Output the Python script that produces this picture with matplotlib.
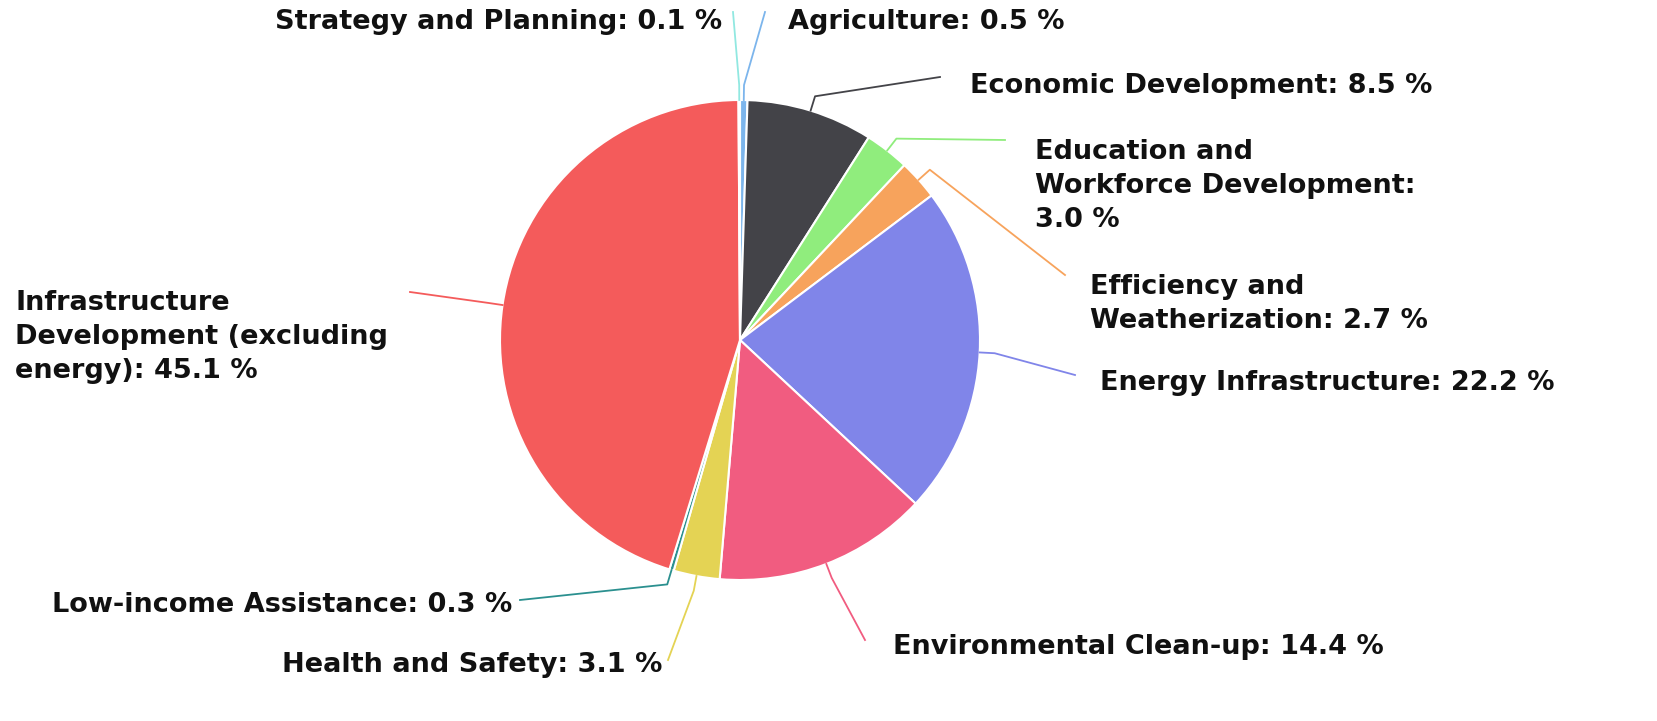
import numpy as np
import matplotlib.pyplot as plt

categories = ['Agriculture', 'Economic Development', 'Education and Workforce Development',
              'Efficiency and Weatherization', 'Energy Infrastructure',
              'Environmental Clean-up', 'Health and Safety', 'Low-income Assistance',
              'Infrastructure Development (excluding energy)', 'Strategy and Planning']
values = [0.5, 8.5, 3.0, 2.7, 22.2, 14.4, 3.1, 0.3, 45.1, 0.1]
colors = ['#7cb5ec', '#434348', '#90ed7d', '#f7a35c', '#8085e9',
          '#f15c80', '#e4d354', '#2b908f', '#f45b5b', '#91e8e1']

labels = ['Agriculture: 0.5 %', 'Economic Development: 8.5 %',
          'Education and\nWorkforce Development:\n3.0 %',
          'Efficiency and\nWeatherization: 2.7 %', 'Energy Infrastructure: 22.2 %',
          'Environmental Clean-up: 14.4 %', 'Health and Safety: 3.1 %',
          'Low-income Assistance: 0.3 %',
          'Infrastructure\nDevelopment (excluding\nenergy): 45.1 %',
          'Strategy and Planning: 0.1 %']

# layout (pixel coords, y from top): label anchor, alignment, connector end
W, H = 1657, 721
cx, cy, R = 740, 340, 240
label_pos = [(788, 22, 'left'), (970, 86, 'left'), (1035, 186, 'left'),
             (1090, 304, 'left'), (1100, 383, 'left'), (893, 647, 'left'),
             (662, 665, 'right'), (512, 605, 'right'), (15, 337, 'left'),
             (722, 22, 'right')]
line_end = [(765, 12), (940, 77), (1005, 140), (1065, 275), (1075, 375),
            (865, 640), (668, 660), (520, 600), (410, 292), (733, 12)]

fig = plt.figure(figsize=(W / 100, H / 100), dpi=100)
ax = fig.add_axes([0, 0, 1, 1])
ax.axis('off')

wedges, _ = ax.pie(values, colors=colors, startangle=90, counterclock=False,
                   center=(cx, H - cy), radius=R,
                   wedgeprops=dict(edgecolor='white', linewidth=1.5))
ax.set_xlim(0, W)
ax.set_ylim(0, H)
ax.set_aspect('auto')

for w, lab, (lx, ly, ha), (ex, ey), col in zip(wedges, labels, label_pos, line_end, colors):
    ang = np.deg2rad((w.theta1 + w.theta2) / 2)
    x0 = cx + R * np.cos(ang)
    y0 = (H - cy) + R * np.sin(ang)
    x1 = cx + (R + 15) * np.cos(ang)
    y1 = (H - cy) + (R + 15) * np.sin(ang)
    ax.plot([x0, x1, ex], [y0, y1, H - ey], color=col, lw=1.3, solid_joinstyle='round')
    ax.text(lx, H - ly, lab, ha=ha, va='center', fontsize=19.5, fontweight='bold',
            color='#111111', linespacing=1.39, family='DejaVu Sans')

fig.savefig('out.png', dpi=100)
